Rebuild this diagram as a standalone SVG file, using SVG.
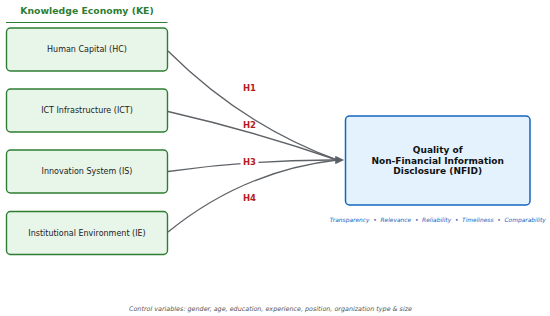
<svg xmlns="http://www.w3.org/2000/svg" width="550" height="316" viewBox="0 0 550 316">
<style>
  .ke { fill:#e8f5e9; stroke:#2e7d32; stroke-width:1.4; }
  .ket { font-family:"DejaVu Sans",sans-serif; font-size:8px; fill:#222; text-anchor:middle; }
  .title { font-family:"DejaVu Sans",sans-serif; font-size:9.3px; font-weight:bold; fill:#2e7d32; text-anchor:middle; }
  .conn { fill:none; stroke:#5f6368; stroke-width:1.35; }
  .head { fill:#5a5f64; stroke:#5a5f64; stroke-width:0.6; stroke-linejoin:miter; }
  .hl { font-family:"DejaVu Sans",sans-serif; font-size:8.5px; font-weight:bold; fill:#b71c1c; text-anchor:middle; }
  .nfid { fill:#e3f2fd; stroke:#1565c0; stroke-width:1.5; }
  .nfidt { font-family:"DejaVu Sans",sans-serif; font-size:9px; font-weight:bold; fill:#111; text-anchor:middle; }
  .dims { font-family:"DejaVu Sans",sans-serif; font-size:5.9px; font-style:italic; fill:#1565c0; text-anchor:middle; white-space:pre; }
  .ctrl { font-family:"DejaVu Sans",sans-serif; font-size:6.4px; font-style:italic; fill:#555; text-anchor:middle; }
</style>
<rect width="550" height="316" fill="#ffffff"/>
<g id="title">
  <text class="title" x="87" y="13.5">Knowledge Economy (KE)</text>
  <line x1="6" y1="22.5" x2="167.5" y2="22.5" stroke="#2e7d32" stroke-width="1"/>
</g>
<g id="connectors">
  <path class="conn" d="M168,51 Q242,125 337,160"/>
  <path class="conn" d="M168,111.5 Q255,131.5 337,160"/>
  <path class="conn" d="M168,171.5 Q254,159.5 337,160"/>
  <path class="conn" d="M168,232 Q243,171 337,160"/>
  <polygon class="head" points="335.5,156.3 343.5,160 335.5,163.7"/>
</g>
<g id="labels">
  <text class="hl" x="249.5" y="91.3">H1</text>
  <text class="hl" x="249.5" y="128">H2</text>
  <rect x="240.5" y="156" width="18" height="11" fill="#ffffff"/>
  <text class="hl" x="249.5" y="164.5">H3</text>
  <text class="hl" x="249.5" y="201">H4</text>
</g>
<g id="node-hc">
  <rect class="ke" x="6.5" y="28" width="161" height="43" rx="4"/>
  <text class="ket" x="87" y="52.3">Human Capital (HC)</text>
</g>
<g id="node-ict">
  <rect class="ke" x="6.5" y="89" width="161" height="43" rx="4"/>
  <text class="ket" x="87" y="113.3">ICT Infrastructure (ICT)</text>
</g>
<g id="node-is">
  <rect class="ke" x="6.5" y="150" width="161" height="43" rx="4"/>
  <text class="ket" x="87" y="174.3">Innovation System (IS)</text>
</g>
<g id="node-ie">
  <rect class="ke" x="6.5" y="211.5" width="161" height="43" rx="4"/>
  <text class="ket" x="87" y="235.8">Institutional Environment (IE)</text>
</g>
<g id="node-nfid">
  <rect class="nfid" x="345.5" y="116" width="184.5" height="89" rx="4"/>
  <text class="nfidt" x="437.7" y="153.3">Quality of</text>
  <text class="nfidt" x="437.7" y="163.6">Non-Financial Information</text>
  <text class="nfidt" x="437.7" y="173.9">Disclosure (NFID)</text>
  <text class="dims" x="437.7" y="221.5">Transparency  •  Relevance  •  Reliability  •  Timeliness  •  Comparability</text>
</g>
<g id="controls">
  <text class="ctrl" x="270.5" y="310.5">Control variables: gender, age, education, experience, position, organization type &amp; size</text>
</g>
</svg>
